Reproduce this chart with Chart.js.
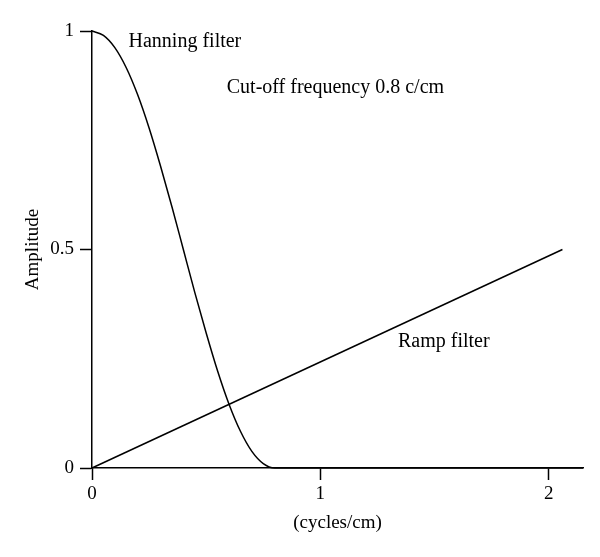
<!DOCTYPE html>
<html>
<head>
<meta charset="utf-8">
<script src="https://cdn.jsdelivr.net/npm/chart.js@4/dist/chart.umd.min.js"></script>
<style>
  html, body { margin: 0; padding: 0; background: #fff; }
  #wrap { width: 600px; height: 557px; }
</style>
</head>
<body>
<div id="wrap"><canvas id="filterPlot"></canvas></div>
<script>
// values
const hanningX = [0, 0.05, 0.1, 0.15, 0.2, 0.25, 0.3, 0.35, 0.4, 0.45, 0.5, 0.55, 0.6, 0.65, 0.7, 0.75, 0.8, 2.15];
const hanningY = [1, 0.990, 0.962, 0.916, 0.854, 0.778, 0.691, 0.598, 0.5, 0.402, 0.309, 0.222, 0.146, 0.084, 0.038, 0.010, 0, 0];
const rampX = [0, 2.06];
const rampY = [0, 0.5];
const xTicks = [0, 1, 2];
const yTicks = [0, 0.5, 1];
const notes = ["Hanning filter", "Cut-off frequency 0.8 c/cm", "Ramp filter"];

const serif = "'Liberation Serif', 'Times New Roman', serif";
const notePos = [[0.16, 0.975], [0.59, 0.87], [1.34, 0.29]];

const notesPlugin = {
    id: "notes",
    afterDatasetsDraw(chart) {
        const { ctx, scales } = chart;
        ctx.save();
        ctx.fillStyle = "#000";
        ctx.font = "20px " + serif;
        ctx.textAlign = "left";
        ctx.textBaseline = "middle";
        notes.forEach((t, i) => {
            ctx.fillText(t, scales.x.getPixelForValue(notePos[i][0]), scales.y.getPixelForValue(notePos[i][1]));
        });
        ctx.restore();
    },
};

const toPoints = (xs, ys) => xs.map((x, i) => ({ x: x, y: ys[i] }));

new Chart(document.getElementById("filterPlot"), {
    type: "line",
    data: {
        datasets: [
            {
                label: "Hanning filter",
                data: toPoints(hanningX, hanningY),
                borderColor: "#000",
                borderWidth: 1.5,
                pointRadius: 0,
                cubicInterpolationMode: "monotone",
                clip: false,
            },
            {
                label: "Ramp filter",
                data: toPoints(rampX, rampY),
                borderColor: "#000",
                borderWidth: 1.5,
                pointRadius: 0,
                clip: false,
            },
        ],
    },
    options: {
        responsive: true,
        maintainAspectRatio: false,
        animation: false,
        layout: { padding: { top: 31, right: 17, left: 22, bottom: 23 } },
        plugins: { legend: { display: false }, tooltip: { enabled: false } },
        scales: {
            x: {
                type: "linear",
                min: 0,
                max: 2.15,
                afterBuildTicks: (s) => { s.ticks = xTicks.map((v) => ({ value: v })); },
                afterFit: (s) => { s.height = 66; },
                border: { color: "#000", width: 1.5 },
                grid: { drawOnChartArea: false, tickLength: 12, tickColor: "#000", tickWidth: 1.5 },
                ticks: { color: "#000", font: { family: serif, size: 19 }, padding: 3, maxRotation: 0 },
                title: { display: true, text: "(cycles/cm)", color: "#000", font: { family: serif, size: 19 }, padding: 0 },
            },
            y: {
                type: "linear",
                min: 0,
                max: 1,
                afterBuildTicks: (s) => { s.ticks = yTicks.map((v) => ({ value: v })); },
                afterFit: (s) => { s.width = 70; },
                border: { color: "#000", width: 1.5 },
                grid: { drawOnChartArea: false, tickLength: 12, tickColor: "#000", tickWidth: 1.5 },
                ticks: { color: "#000", font: { family: serif, size: 19 }, padding: 6, callback: (v) => String(v) },
                title: { display: true, text: "Amplitude", color: "#000", font: { family: serif, size: 19 }, padding: 0 },
            },
        },
    },
    plugins: [notesPlugin],
});
</script>
</body>
</html>
